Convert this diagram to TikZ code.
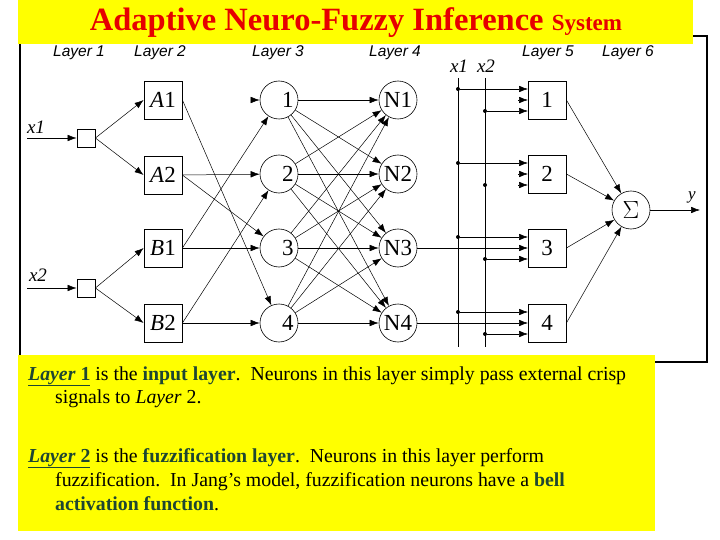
\documentclass[tikz,border=0pt]{standalone}
\usepackage{fontspec}
\setmainfont{Liberation Serif}
\newfontfamily\lsans{Liberation Sans}
\usetikzlibrary{arrows.meta}
\definecolor{tred}{RGB}{230,0,0}
\definecolor{ylw}{RGB}{255,255,0}
\definecolor{dgreen}{RGB}{30,70,50}
\begin{document}
\begin{tikzpicture}[x=1pt,y=-1pt,
  every node/.style={inner sep=0pt},
  ln/.style={line width=0.5pt,-{Latex[length=9pt,width=6.5pt]}},
  sq/.style={draw,line width=0.8pt,minimum size=18pt},
  bx/.style={draw,line width=0.8pt,minimum size=38pt,font=\fontsize{23}{23}\selectfont},
  cr/.style={draw,circle,line width=0.6pt,minimum size=38pt,font=\fontsize{23}{23}\selectfont},
  lay/.style={font=\lsans\itshape\fontsize{15.5}{15.5}\selectfont},
  dot/.style={circle,fill,minimum size=4pt},
  body/.style={anchor=base west,font=\fontsize{19.8}{19.8}\selectfont}]
\useasboundingbox (0,0) rectangle (720,540);
\fill[white] (0,0) rectangle (720,540);
% frame
\draw[line width=1.5pt] (20,40) -- (20,360);
\draw[line width=1.5pt] (690,36) -- (707,36) -- (707,362) -- (650,362);
% title
\fill[ylw] (18,0) rectangle (693,44);
\node[text=tred,font=\bfseries] (title) at (356,23) {\fontsize{32.5}{32.5}\selectfont Adaptive Neuro-Fuzzy Inference \fontsize{23}{23}\selectfont System};
% layer labels
\node[lay] (l1) at (79,53) {Layer 1};
\node[lay] (l2) at (160,53) {Layer 2};
\node[lay] (l3) at (278,53) {Layer 3};
\node[lay] (l4) at (395,53) {Layer 4};
\node[lay] (l5) at (548,53) {Layer 5};
\node[lay] (l6) at (628,53) {Layer 6};
% layer 1
\node[sq] (i1) at (86,138) {};
\node[sq] (i2) at (86,288) {};
\node[font=\itshape\fontsize{19}{19}\selectfont] (x1) at (36,127) {x1};
\node[font=\itshape\fontsize{19}{19}\selectfont] (x2) at (38,275) {x2};
\coordinate (x1s) at (27,138);
\coordinate (x2s) at (27,288);
\draw[ln] (x1s) -- (i1);
\draw[ln] (x2s) -- (i2);
% layer 2
\node[bx] (A1) at (163,100) {\textit{A}1};
\node[bx] (A2) at (163,175) {\textit{A}2};
\node[bx] (B1) at (163,248) {\textit{B}1};
\node[bx] (B2) at (163,323) {\textit{B}2};
\draw[ln] (i1.east) -- (A1.west);
\draw[ln] (i1.east) -- (A2.west);
\draw[ln] (i2.east) -- (B1.west);
\draw[ln] (i2.east) -- (B2.west);
% layer 3
\foreach \i/\y in {1/100,2/174,3/248,4/323}{
  \node[cr] (P\i) at (279,\y) {$\mathrm{\Pi}$\i};
  \node[cr] (N\i) at (398,\y) {N\i};
  \node[bx] (R\i) at (547,\y) {\i};
}
\coordinate (p1s) at (254,100);
\draw[ln] (p1s) -- (P1);
\draw[ln] (A1.east) -- (P4);
\draw[ln] (A2.east) -- (P2);
\draw[ln] (A2.east) -- (P3);
\draw[ln] (B1.east) -- (P1);
\draw[ln] (B1.east) -- (P3);
\draw[ln] (B2.east) -- (P2);
\draw[ln] (B2.east) -- (P4);
\foreach \i in {1,...,4}{\foreach \j in {1,...,4}{\draw[ln] (P\i) -- (N\j);}}
% layer 5
\node[font=\itshape\fontsize{19}{19}\selectfont] (xa) at (459,66) {x1};
\node[font=\itshape\fontsize{19}{19}\selectfont] (xb) at (486,66) {x2};
\coordinate (va) at (458,78); \coordinate (vae) at (458,347);
\coordinate (vb) at (485,78); \coordinate (vbe) at (485,347);
\draw[line width=0.6pt] (va) -- (vae);
\draw[line width=0.6pt] (vb) -- (vbe);
\foreach \i/\y in {1/100,2/174,3/248,4/323}{
  \coordinate (t\i) at (528,\y-11);
  \coordinate (m\i) at (528,\y);
  \coordinate (b\i) at (528,\y+11);
  \node[dot] (da\i) at (458,\y-11) {};
  \node[dot] (db\i) at (485,\y+11) {};
}
\draw[ln] (da1) -- (t1); \draw[ln] (db1) -- (b1);
\draw[ln] (518,100) -- (m1);
\draw[ln] (da2) -- (t2);
\draw[ln] (518,174) -- (m2); \draw[ln] (518,185) -- (b2);
\draw[ln] (da3) -- (t3); \draw[ln] (N3) -- (m3); \draw[ln] (db3) -- (b3);
\draw[ln] (da4) -- (t4); \draw[ln] (N4) -- (m4); \draw[ln] (db4) -- (b4);
% layer 6
\node[cr,font=\fontsize{26}{26}\selectfont] (S) at (631,210) {$\Sigma$};
\foreach \i in {1,...,4}{\draw[ln] (R\i.east) -- (S);}
\coordinate (yo) at (700,210);
\draw[ln] (S) -- (yo);
\node[font=\itshape\fontsize{17}{17}\selectfont] (ylab) at (692,197) {y};
% text box
\fill[ylw] (18,355) rectangle (655,531);
\node[body] (t1) at (28,380) {\textcolor{dgreen}{\underline{\textbf{\textit{Layer}} \textbf{1}}} is the \textcolor{dgreen}{\textbf{input layer}}.\ \ Neurons in this layer simply pass external crisp};
\node[body] (t2) at (55,403) {signals to \textit{Layer} 2.};
\node[body] (t3) at (28,462) {\textcolor{dgreen}{\underline{\textbf{\textit{Layer} 2}}} is the \textcolor{dgreen}{\textbf{fuzzification layer}}.\ \ Neurons in this layer perform};
\node[body] (t4) at (55,486) {fuzzification.\ \ In Jang's model, fuzzification neurons have a \textcolor{dgreen}{\textbf{bell}}};
\node[body] (t5) at (55,510) {\textcolor{dgreen}{\textbf{activation function}}.};
\end{tikzpicture}
\end{document}
